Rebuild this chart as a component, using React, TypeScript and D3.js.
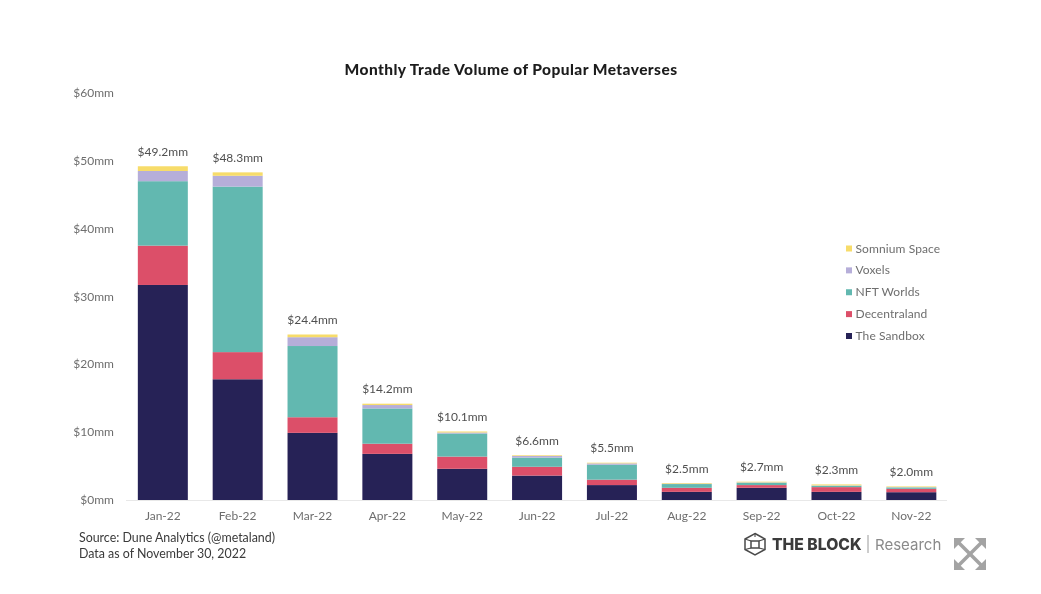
import React from 'react';
import * as d3 from 'd3';

const months = ['Jan-22', 'Feb-22', 'Mar-22', 'Apr-22', 'May-22', 'Jun-22', 'Jul-22', 'Aug-22', 'Sep-22', 'Oct-22', 'Nov-22'];
const sandbox = [31.7, 17.8, 9.9, 6.8, 4.6, 3.6, 2.2, 1.2, 1.8, 1.2, 1.15];
const decentraland = [5.8, 4.0, 2.3, 1.5, 1.8, 1.3, 0.8, 0.6, 0.4, 0.7, 0.5];
const nftWorlds = [9.5, 24.4, 10.5, 5.2, 3.4, 1.35, 2.2, 0.55, 0.35, 0.2, 0.2];
const voxels = [1.5, 1.6, 1.3, 0.5, 0.15, 0.25, 0.2, 0.05, 0.05, 0.05, 0.05];
const somnium = [0.7, 0.5, 0.4, 0.2, 0.15, 0.1, 0.1, 0.1, 0.1, 0.15, 0.1];
const totals = ['$49.2mm', '$48.3mm', '$24.4mm', '$14.2mm', '$10.1mm', '$6.6mm', '$5.5mm', '$2.5mm', '$2.7mm', '$2.3mm', '$2.0mm'];
const yTicks = [0, 10, 20, 30, 40, 50, 60];

const seriesNames = ['The Sandbox', 'Decentraland', 'NFT Worlds', 'Voxels', 'Somnium Space'];
const seriesValues = [sandbox, decentraland, nftWorlds, voxels, somnium];
const seriesColors = ['#282057', '#dc5069', '#62b8b0', '#b6aed9', '#f7dc6a'];

const width = 1041;
const height = 594;
const font = 'Lato, sans-serif';

const x = d3.scaleBand<string>().domain(months).range([125.4, 948.75]).paddingInner(0.332).paddingOuter(0.166);
const y = d3.scaleLinear().domain([0, 60]).range([500, 93]);

const rows = months.map((m, i) => {
  const row: Record<string, any> = { month: m };
  seriesNames.forEach((s, k) => { row[s] = seriesValues[k][i]; });
  return row;
});
const stacked = d3.stack<Record<string, any>>().keys(seriesNames)(rows);
const barTop = (i: number) => y(stacked[stacked.length - 1][i][1]);

const legendY = d3.scalePoint<string>().domain([...seriesNames].reverse()).range([248.5, 336]);

const App: React.FC = () => (
  <svg
    width={width}
    height={height}
    viewBox={`0 0 ${width} ${height}`}
    style={{ position: 'fixed', left: 0, top: 0, background: '#ffffff' }}
  >
    <defs>
      <filter id="soft" x="-2%" y="-2%" width="104%" height="104%">
        <feGaussianBlur stdDeviation="0.5" />
      </filter>
    </defs>
    <g filter="url(#soft)" fontFamily={font}>
      <text x={511} y={75} textAnchor="middle" fontSize={15.5} fontWeight={900} letterSpacing={0.42} fill="#1c1c1c">
        Monthly Trade Volume of Popular Metaverses
      </text>

      {yTicks.map(t => (
        <text key={t} x={114} y={y(t) + 4} textAnchor="end" fontSize={12} fill="#6e6e6e">
          ${t}mm
        </text>
      ))}

      <line x1={126} x2={947} y1={y(0) + 0.5} y2={y(0) + 0.5} stroke="#e8e8e8" strokeWidth={1} />

      {stacked.map((layer, k) => (
        <g key={layer.key} fill={seriesColors[k]}>
          {layer.map((d, i) => (
            <rect
              key={months[i]}
              x={x(months[i])}
              y={y(d[1])}
              width={x.bandwidth()}
              height={y(d[0]) - y(d[1])}
            />
          ))}
        </g>
      ))}

      {months.map((m, i) => (
        <g key={m} textAnchor="middle">
          <text x={x(m)! + x.bandwidth() / 2} y={barTop(i) - 10.5} fontSize={12} fill="#505050">
            {totals[i]}
          </text>
          <text x={x(m)! + x.bandwidth() / 2} y={520} fontSize={12} fill="#6e6e6e">
            {m}
          </text>
        </g>
      ))}

      {legendY.domain().map(name => {
        const color = seriesColors[seriesNames.indexOf(name)];
        return (
          <g key={name}>
            <rect x={846} y={legendY(name)! - 3} width={6} height={6} fill={color} />
            <text x={855.5} y={legendY(name)! + 4} fontSize={12} letterSpacing={0.1} fill="#6e6e6e">
              {name}
            </text>
          </g>
        );
      })}

      <text fontSize={12.4} fill="#3a3a3a">
        <tspan x={79} y={542}>Source: Dune Analytics (@metaland)</tspan>
        <tspan x={79} y={558}>Data as of November 30, 2022</tspan>
      </text>

      {/* logo */}
      <g fill="none" stroke="#4a4a4a" strokeWidth={1.5}>
        <path d="M755 533.5 L765 539 L765 549.5 L755 555 L745 549.5 L745 539 Z" />
        <path d="M751 541 H759 V548 H751 Z" />
        <path d="M745 539 L751 541 M765 539 L759 541 M745 549.5 L751 548 M765 549.5 L759 548 M755 533.5 V537" strokeWidth={1.1} />
      </g>
      <text x={772} y={550} fontFamily="Inter, sans-serif" fontSize={15.7} fontWeight={800} fill="#3a3a3a">THE BLOCK</text>
      <line x1={868} x2={868} y1={535} y2={553} stroke="#9a9a9a" strokeWidth={1} />
      <text x={875} y={550} fontFamily="Inter, sans-serif" fontSize={15} fill="#8a8a8a">Research</text>

      {/* expand icon */}
      <g stroke="#a3a3a3" strokeWidth={3.6}>
        <line x1={959} y1={543} x2={981} y2={565} />
        <line x1={981} y1={543} x2={959} y2={565} />
      </g>
      <g fill="#a3a3a3">
        <path d="M954 538 H965 L954 549 Z" />
        <path d="M986 538 H975 L986 549 Z" />
        <path d="M986 570 H975 L986 559 Z" />
        <path d="M954 570 H965 L954 559 Z" />
      </g>
    </g>
  </svg>
);

export default App;
